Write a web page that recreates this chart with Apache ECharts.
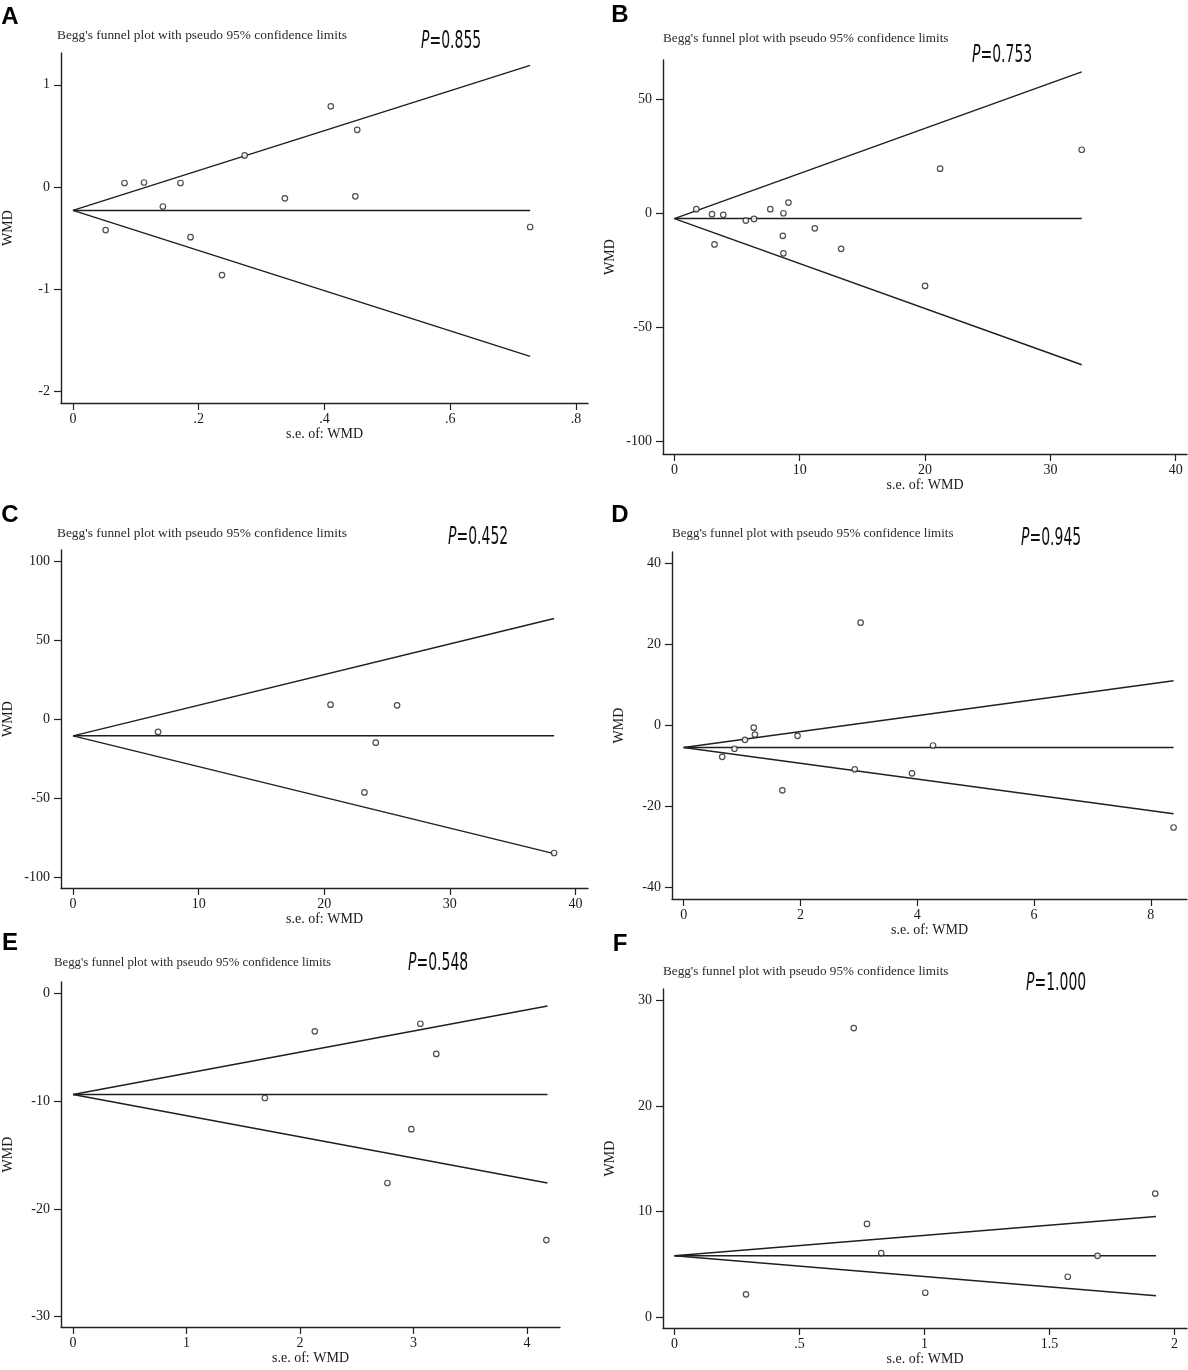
<!DOCTYPE html>
<html>
<head>
<meta charset="utf-8">
<title>Begg's funnel plots</title>
<script src="https://cdn.jsdelivr.net/npm/echarts@6/dist/echarts.min.js"></script>
<style>
    html, body {margin: 0; padding: 0; background: #fff;}
    #chart {width: 1188px; height: 1370px;}
</style>
</head>
<body>
<div id="chart"></div>
<script>
// panel A
var aSe  = [0.052, 0.082, 0.113, 0.143, 0.171, 0.187, 0.237, 0.273, 0.337, 0.41, 0.452, 0.449, 0.727];
var aWmd = [-0.42, 0.04, 0.045, -0.19, 0.04, -0.49, -0.86, 0.31, -0.11, 0.79, 0.56, -0.09, -0.39];
var aFunnel = {center: -0.228, endSe: 0.727, upper: 1.19, lower: -1.655};
var aXTicks = [0, 0.2, 0.4, 0.6, 0.8];
var aYTicks = [-2, -1, 0, 1];
var aP = '0.855';

// panel B
var bSe  = [1.75, 3.0, 3.9, 3.2, 5.7, 6.35, 7.65, 8.7, 9.1, 8.65, 8.7, 11.2, 13.3, 20.0, 21.2, 32.5];
var bWmd = [1.8, -0.4, -0.7, -13.7, -3.2, -2.5, 1.8, 0, 4.7, -9.9, -17.6, -6.6, -15.6, -31.9, 19.6, 27.9];
var bFunnel = {center: -2.35, endSe: 32.5, upper: 62.1, lower: -66.5};
var bXTicks = [0, 10, 20, 30, 40];
var bYTicks = [-100, -50, 0, 50];
var bP = '0.753';

// panel C
var cSe  = [6.77, 20.5, 25.8, 24.1, 23.2, 38.3];
var cWmd = [-8.0, 9.3, 8.9, -14.8, -46.4, -84.8];
var cFunnel = {center: -10.5, endSe: 38.3, upper: 63.9, lower: -85.2};
var cXTicks = [0, 10, 20, 30, 40];
var cYTicks = [-100, -50, 0, 50, 100];
var cP = '0.452';

// panel D
var dSe  = [0.66, 0.87, 1.05, 1.2, 1.22, 1.95, 1.69, 3.03, 2.93, 3.91, 4.27, 8.39];
var dWmd = [-7.8, -5.8, -3.6, -0.6, -2.3, -2.6, -16.1, 25.4, -10.9, -11.9, -5.0, -25.3];
var dFunnel = {center: -5.5, endSe: 8.39, upper: 11.0, lower: -21.9};
var dXTicks = [0, 2, 4, 6, 8];
var dYTicks = [-40, -20, 0, 20, 40];
var dP = '0.945';

// panel E
var eSe  = [1.69, 2.13, 3.06, 3.2, 2.98, 2.77, 4.17];
var eWmd = [-9.7, -3.5, -2.8, -5.6, -12.6, -17.6, -22.9];
var eFunnel = {center: -9.38, endSe: 4.18, upper: -1.15, lower: -17.6};
var eXTicks = [0, 1, 2, 3, 4];
var eYTicks = [-30, -20, -10, 0];
var eP = '0.548';

// panel F
var fSe  = [0.286, 0.717, 0.77, 0.827, 1.003, 1.573, 1.692, 1.923];
var fWmd = [2.15, 27.4, 8.83, 6.06, 2.3, 3.82, 5.8, 11.7];
var fFunnel = {center: 5.8, endSe: 1.926, upper: 9.53, lower: 2.02};
var fXTicks = [0, 0.5, 1, 1.5, 2];
var fYTicks = [0, 10, 20, 30];
var fP = '1.000';

var TITLE = "Begg's funnel plot with pseudo 95% confidence limits";
var SERIF = '"Liberation Serif", "DejaVu Serif", serif';
var PFONT = '"DejaVu Sans", sans-serif';

// where each panel sits on the page (grid box, axis ranges, text spots)
var panels = [
    {tag: 'A', se: aSe, wmd: aWmd, funnel: aFunnel, xTicks: aXTicks, yTicks: aYTicks, p: aP,
        grid: [57, 53, 531, 350], x: [-0.019, 0.819], y: [-2.111, 1.311],
        tagPos: [10, 17], titlePos: [57, 35], titleSize: 13.4, pPos: [421, 41]},
    {tag: 'B', se: bSe, wmd: bWmd, funnel: bFunnel, xTicks: bXTicks, yTicks: bYTicks, p: bP,
        grid: [663, 60, 524, 394], x: [-0.91, 40.9], y: [-105.7, 67.3],
        tagPos: [620, 15], titlePos: [663, 39], titleSize: 13.2, pPos: [972, 55]},
    {tag: 'C', se: cSe, wmd: cWmd, funnel: cFunnel, xTicks: cXTicks, yTicks: cYTicks, p: cP,
        grid: [57, 550, 531, 338], x: [-0.96, 41.0], y: [-107.0, 107.4],
        tagPos: [10, 515], titlePos: [57, 533], titleSize: 13.4, pPos: [448, 537]},
    {tag: 'D', se: dSe, wmd: dWmd, funnel: dFunnel, xTicks: dXTicks, yTicks: dYTicks, p: dP,
        grid: [672, 552, 515, 347], x: [-0.2, 8.62], y: [-43.0, 42.9],
        tagPos: [620, 515], titlePos: [672, 534], titleSize: 13.0, pPos: [1021, 538]},
    {tag: 'E', se: eSe, wmd: eWmd, funnel: eFunnel, xTicks: eXTicks, yTicks: eYTicks, p: eP,
        grid: [53, 982, 507, 345], x: [-0.106, 4.29], y: [-30.98, 1.08],
        tagPos: [10, 943], titlePos: [54, 963], titleSize: 12.8, pPos: [408, 963]},
    {tag: 'F', se: fSe, wmd: fWmd, funnel: fFunnel, xTicks: fXTicks, yTicks: fYTicks, p: fP,
        grid: [663, 989, 524, 339], x: [-0.046, 2.05], y: [-1.04, 31.1],
        tagPos: [620, 944], titlePos: [663, 972], titleSize: 13.2, pPos: [1026, 983]}
];

// stata style tick text: .2 instead of 0.2
function stataNum(v) {
    return String(+v.toFixed(4)).replace(/^(-?)0\./, '$1.');
}

function $each(arr, fn) {
    for (var i = 0; i < arr.length; i++) fn(arr[i], i);
}

// tiny shallow merge, enough for label styles
function extend(a, b) {
    for (var k in b) a[k] = b[k];
    return a;
}

function buildOption() {
    var grids = [], xAxes = [], yAxes = [], series = [], texts = [];
    var axisLine = {onZero: false, lineStyle: {color: '#222', width: 1.4}};
    var tickStyle = {color: '#222', width: 1.2};
    var labelStyle = {fontFamily: SERIF, fontSize: 14, color: '#1a1a1a'};

    $each(panels, function (pn, i) {
        grids.push({left: pn.grid[0], top: pn.grid[1], width: pn.grid[2], height: pn.grid[3]});

        xAxes.push({
            gridIndex: i, type: 'value', min: pn.x[0], max: pn.x[1],
            name: 's.e. of: WMD', nameLocation: 'middle', nameGap: 22,
            nameTextStyle: {fontFamily: SERIF, fontSize: 14, color: '#1a1a1a'},
            axisLine: axisLine, splitLine: {show: false},
            axisTick: {show: true, length: 7, lineStyle: tickStyle, customValues: pn.xTicks},
            axisLabel: extend({margin: 9, customValues: pn.xTicks, formatter: stataNum}, labelStyle)
        });
        yAxes.push({
            gridIndex: i, type: 'value', min: pn.y[0], max: pn.y[1],
            name: 'WMD', nameLocation: 'middle', nameGap: 46, nameRotate: 90,
            nameTextStyle: {fontFamily: SERIF, fontSize: 14, color: '#1a1a1a'},
            axisLine: axisLine, splitLine: {show: false},
            axisTick: {show: true, length: 7, lineStyle: tickStyle, customValues: pn.yTicks},
            axisLabel: extend({margin: 11, customValues: pn.yTicks, formatter: stataNum}, labelStyle)
        });

        // pseudo 95% limits + pooled line, from the read end points
        var f = pn.funnel;
        var lines = [
            [[0, f.center], [f.endSe, f.upper]],
            [[0, f.center], [f.endSe, f.center]],
            [[0, f.center], [f.endSe, f.lower]]
        ];
        $each(lines, function (ln) {
            series.push({type: 'line', xAxisIndex: i, yAxisIndex: i, data: ln, symbol: 'none',
                silent: true, lineStyle: {color: '#1f1f1f', width: 1.5}, z: 2});
        });

        series.push({
            type: 'scatter', xAxisIndex: i, yAxisIndex: i, symbol: 'circle', symbolSize: 5.5, z: 3,
            itemStyle: {color: '#fff', borderColor: '#222', borderWidth: 1.2},
            data: pn.se.map(function (s, k) { return [s, pn.wmd[k]]; })
        });

        texts.push({type: 'text', x: pn.tagPos[0], y: pn.tagPos[1], style: {
            text: pn.tag, fill: '#000', font: 'bold 24px "Liberation Sans", Arial, sans-serif',
            align: 'center', verticalAlign: 'middle'}});
        texts.push({type: 'text', x: pn.titlePos[0], y: pn.titlePos[1], style: {
            text: TITLE, fill: '#2a2a2a', font: pn.titleSize + 'px ' + SERIF, verticalAlign: 'middle'}});
        // the P value text is a squeezed sans face in the figure
        texts.push({type: 'text', x: pn.pPos[0], y: pn.pPos[1], scaleX: 0.56, style: {
            text: '{i|P}=' + pn.p, fill: '#111', font: '25px ' + PFONT, verticalAlign: 'middle',
            rich: {i: {fontStyle: 'italic', fontFamily: PFONT, fontSize: 25, fill: '#111'}}}});
    });

    return {
        backgroundColor: '#fff',
        animation: false,
        grid: grids, xAxis: xAxes, yAxis: yAxes, series: series,
        graphic: {elements: texts}
    };
}

var chart = echarts.init(document.getElementById('chart'), null, {renderer: 'canvas'});
chart.setOption(buildOption());
</script>
</body>
</html>
